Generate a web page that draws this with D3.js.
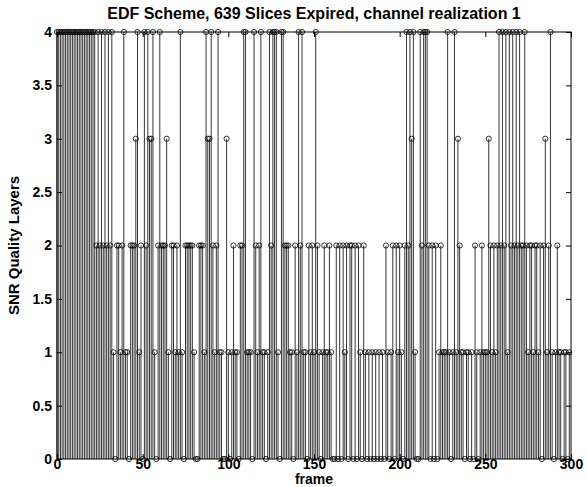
<!DOCTYPE html>
<html><head><meta charset="utf-8">
<script src="https://cdn.jsdelivr.net/npm/d3@7"></script>
<style>body{margin:0;background:#fff}svg{display:block}</style>
</head><body>
<svg id="c" width="587" height="487"></svg>
<script>
const titleText = "EDF Scheme, 639 Slices Expired, channel realization 1";
const xLabelText = "frame";
const yLabelText = "SNR Quality Layers";
const xTicks = [0, 50, 100, 150, 200, 250, 300];
const yTicks = [0, 0.5, 1, 1.5, 2, 2.5, 3, 3.5, 4];
const yTickLabels = ["0", "0.5", "1", "1.5", "2", "2.5", "3", "3.5", "4"];
// quality layers per frame, frame index = position
const layers = [
  4,4,4,4,4,4,4,4, 4,4,4,4,4,4,4,4, 4,4,4,4,4,4,4,
  2,4,2,4,2,4,2,4,2,4,1,0,
  2,2,1,2,4,1,1,0,
  2,2,2,3,4,1,2,0,
  4,2,4,3,3,4,1,0,
  2,4,2,2,2,3,1,0,
  2,2,1,2,1,4,1,0,
  2,2,2,2,2,1,0,0,
  2,2,2,1,4,3,3,4,
  2,1,2,4,1,1,0,0,
  3,1,0,1,2,1,1,0,
  2,2,4,4,1,1,1,0,
  4,2,1,2,4,1,1,0,
  1,4,2,4,4,4,1,0,
  4,4,2,2,2,1,1,0,
  2,1,4,2,4,1,1,0,
  2,1,2,1,4,2,1,0,
  1,2,1,1,2,1,0,0,
  2,0,2,0,2,1,2,0,
  2,2,0,2,0,2,1,0,
  2,1,0,1,0,1,0,1,
  0,1,0,1,0,2,1,0,
  1,2,0,2,1,2,1,0,
  2,4,2,4,3,4,1,0,
  0,4,2,4,4,4,2,0,
  2,0,2,0,1,2,1,1,
  1,4,1,0,1,4,1,3,
  2,1,1,0,1,1,0,1,
  0,2,1,0,1,2,1,1,
  1,3,2,1,2,1,2,4,
  2,4,2,4,1,4,2,4,
  2,4,2,4,2,2,4,2,
  1,2,2,1,2,2,1,2,
  0,2,3,1,2,4,1,0,
  1,2,1,1,0,1,1,0,1
];

const svg = d3.select("#c");
const box = {l: 57, r: 571, t: 32, b: 459};
const xs = d3.scaleLinear().domain([0, 300]).range([box.l, box.r]);
const ys = d3.scaleLinear().domain([0, 4]).range([box.b, box.t]);
const fontFam = "'Liberation Sans', Arial, Helvetica, sans-serif";
const pts = layers.map((v, i) => ({f: i, v}));

const gMarks = svg.append("g");
gMarks.selectAll("line.stem").data(pts.filter(d => d.v > 0))
  .join("line").attr("class", "stem")
  .attr("x1", d => xs(d.f)).attr("x2", d => xs(d.f))
  .attr("y1", ys(0)).attr("y2", d => ys(d.v))
  .attr("stroke", "#000").attr("stroke-width", 0.8);
gMarks.selectAll("circle").data(pts)
  .join("circle")
  .attr("cx", d => xs(d.f)).attr("cy", d => ys(d.v)).attr("r", 2.6)
  .attr("fill", "none").attr("stroke", "#000").attr("stroke-width", 0.8);

const gAx = svg.append("g").attr("font-family", fontFam);
const axB = gAx.append("g").attr("transform", `translate(0,${box.b})`)
  .call(d3.axisBottom(xs).tickValues(xTicks).tickFormat(d3.format("d")).tickSizeInner(-5).tickSizeOuter(0).tickPadding(2));
const axT = gAx.append("g").attr("transform", `translate(0,${box.t})`)
  .call(d3.axisTop(xs).tickValues(xTicks).tickFormat("").tickSizeInner(-5).tickSizeOuter(0));
const axL = gAx.append("g").attr("transform", `translate(${box.l},0)`)
  .call(d3.axisLeft(ys).tickValues(yTicks).tickFormat((d, i) => yTickLabels[i]).tickSizeInner(-5).tickSizeOuter(0).tickPadding(5));
const axR = gAx.append("g").attr("transform", `translate(${box.r},0)`)
  .call(d3.axisRight(ys).tickValues(yTicks).tickFormat("").tickSizeInner(-5).tickSizeOuter(0));
[axB, axT, axL, axR].forEach(a => {
  a.select(".domain").remove();
  a.selectAll("line").attr("stroke", "#000");
  a.selectAll("text").attr("font-size", 14).attr("font-weight", "bold").attr("fill", "#000");
});
axB.selectAll("text").attr("dy", "0.6em");
svg.append("rect").attr("x", box.l).attr("y", box.t)
  .attr("width", box.r - box.l).attr("height", box.b - box.t)
  .attr("fill", "none").attr("stroke", "#000").attr("stroke-width", 1);

svg.append("text").attr("x", (box.l + box.r) / 2).attr("y", 19)
  .attr("text-anchor", "middle").attr("font-family", fontFam).attr("font-weight", "bold").attr("font-size", 16)
  .text(titleText);
svg.append("text").attr("x", (box.l + box.r) / 2).attr("y", 484)
  .attr("text-anchor", "middle").attr("font-family", fontFam).attr("font-weight", "bold").attr("font-size", 14)
  .text(xLabelText);
svg.append("text").attr("transform", `translate(19,${(box.t + box.b) / 2}) rotate(-90)`)
  .attr("text-anchor", "middle").attr("font-family", fontFam).attr("font-weight", "bold").attr("font-size", 15)
  .text(yLabelText);
</script>
</body></html>
